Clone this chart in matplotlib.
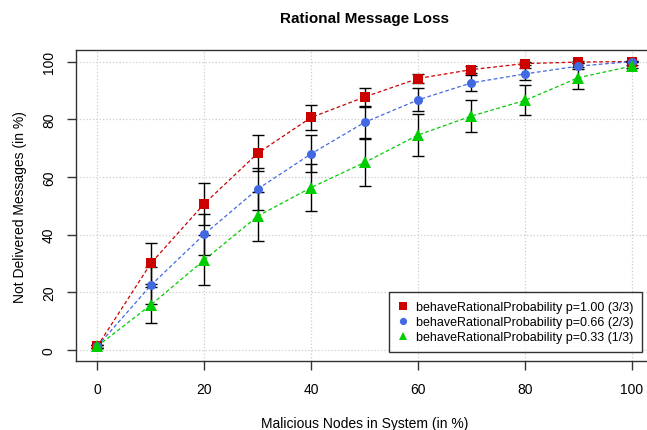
import numpy as np
import matplotlib.pyplot as plt

plt.rcParams['font.family'] = ['Liberation Sans', 'DejaVu Sans']

# malicious nodes (%)
x = [0, 10, 20, 30, 40, 50, 60, 70, 80, 90, 100]

# p = 1.00
red = [1.3, 30.0, 50.7, 68.2, 80.6, 87.7, 94.1, 97.2, 99.3, 99.8, 100.0]
red_err = [0.5, 7.0, 7.3, 6.2, 4.3, 3.0, 1.7, 1.2, 0.6, 0.3, 0.1]
# p = 0.66
blue = [1.3, 22.4, 40.1, 55.8, 68.0, 78.9, 86.7, 92.6, 95.7, 98.4, 100.0]
blue_err = [0.5, 6.4, 7.2, 7.3, 6.4, 5.4, 4.0, 2.9, 2.0, 1.0, 0.1]
# p = 0.33
green = [1.3, 15.6, 31.2, 46.4, 56.3, 65.0, 74.5, 81.1, 86.5, 94.4, 98.4]
green_err = [0.5, 6.2, 8.8, 8.5, 8.0, 8.3, 7.3, 5.4, 5.2, 3.8, 0.5]

labels = ["behaveRationalProbability p=1.00 (3/3)",
          "behaveRationalProbability p=0.66 (2/3)",
          "behaveRationalProbability p=0.33 (1/3)"]

fig = plt.figure(figsize=(6.47, 4.31), dpi=100)
ax = fig.add_axes([0.1175, 0.159, 0.892, 0.7227])

series = [(red, red_err, '#CD0000', 's', 6.5),
          (blue, blue_err, '#4169E1', 'o', 6.5),
          (green, green_err, '#00CD00', '^', 8)]

handles = []
for (y, e, c, m, ms), lab in zip(series, labels):
    ax.plot(x, y, color=c, linestyle=(0, (3, 2)), lw=0.9, zorder=2)
    ax.errorbar(x, y, yerr=e, fmt='none', ecolor='black', elinewidth=1,
                capsize=4, capthick=1, zorder=3)
    h, = ax.plot(x, y, linestyle='none', marker=m, color=c, ms=ms,
                 markeredgewidth=0, zorder=4, label=lab)
    handles.append(h)

ax.set_xlim(-4, 104)
ax.set_ylim(-4, 104)
ax.set_xticks(range(0, 101, 20))
ax.set_yticks(range(0, 101, 20))
ax.grid(True, color='#cccccc', linestyle=':', lw=0.9)
ax.set_axisbelow(True)

for s in ax.spines.values():
    s.set_color('#333333')
    s.set_linewidth(1)

ax.tick_params(axis='both', length=6.5, width=1, color='#333333',
               labelsize=10, pad=8)
ax.tick_params(axis='y', labelrotation=90)
for t in ax.get_yticklabels():
    t.set_va('center')

ax.set_title("Rational Message Loss", fontsize=11, fontweight='bold', pad=20)
ax.set_xlabel("Malicious Nodes in System (in %)", fontsize=10, labelpad=15)
ax.set_ylabel("Not Delivered Messages (in %)", fontsize=10, labelpad=11)

leg = ax.legend(handles=handles, loc='lower right', bbox_to_anchor=(0.9915, 0.01),
                fontsize=9, frameon=True, fancybox=False, edgecolor='black',
                borderpad=0.7, handlelength=0.8, handletextpad=0.6,
                labelspacing=0.25, markerscale=0.8)
leg.get_frame().set_linewidth(1)

fig.savefig("out.png", dpi=100)
